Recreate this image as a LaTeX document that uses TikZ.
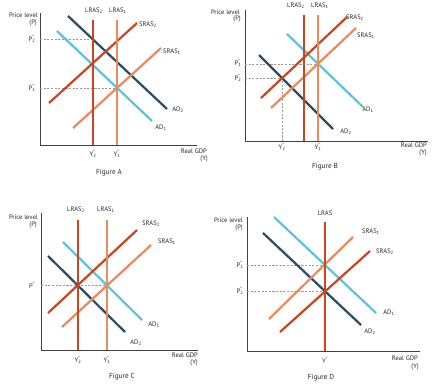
\documentclass[tikz,border=0pt]{standalone}
\usepackage{fontspec}
\setmainfont{PT Sans}

\definecolor{addark}{HTML}{2D4C61}
\definecolor{adlight}{HTML}{5EC3DA}
\definecolor{asdark}{HTML}{C9471F}
\definecolor{aslight}{HTML}{EB8A5C}

\newcommand{\starsub}[1]{\rlap{\textsuperscript{*}}\textsubscript{#1}}

\tikzset{
	axis/.style={draw=black!75, line width=0.7pt},
	guide/.style={draw=black!40, line width=0.5pt, dash pattern={on 1.8pt off 1.3pt}},
	curve/.style={line width=1.9pt},
	lbl/.style={inner sep=0pt, text=black!85, font=\fontsize{5.6}{6}\selectfont},
	figlbl/.style={inner sep=0pt, text=black!85, font=\fontsize{6.2}{7}\selectfont},
}

\begin{document}
\begin{tikzpicture}[x=0.03cm, y=-0.03cm]
	\useasboundingbox (0,0) rectangle (432,389);
	% Figure A
	\coordinate (Ay) at (40,13); \coordinate (Ao) at (40,145); \coordinate (Ax) at (197,145);
	\draw[axis] (Ay) -- (Ao) -- (Ax);
	\node[lbl, anchor=east] (Aplev) at (38,15) {Price level};
	\node[lbl, anchor=east] (Apsym) at (37,23) {(P)};
	\node[lbl] (AP2) at (32,39) {P\starsub{2}};
	\node[lbl] (AP1) at (32,88) {P\starsub{1}};
	\coordinate (Ag2a) at (40,39); \coordinate (Ag2b) at (93,39);
	\coordinate (Ag1a) at (40,88); \coordinate (Ag1b) at (117,88);
	\draw[guide] (Ag2a) -- (Ag2b);
	\draw[guide] (Ag1a) -- (Ag1b);
	\coordinate (Ad1a) at (57,31); \coordinate (Ad1b) at (152,121);
	\coordinate (Ad2a) at (68,16); \coordinate (Ad2b) at (167,109);
	\coordinate (As1a) at (73,128); \coordinate (As1b) at (161,48);
	\coordinate (As2a) at (49,103); \coordinate (As2b) at (137,23);
	\coordinate (Al1a) at (117,20); \coordinate (Al1b) at (117,145);
	\coordinate (Al2a) at (93,20); \coordinate (Al2b) at (93,145);
	\draw[curve, adlight] (Ad1a) -- (Ad1b);
	\draw[curve, addark] (Ad2a) -- (Ad2b);
	\draw[curve, aslight] (As1a) -- (As1b);
	\draw[curve, asdark] (As2a) -- (As2b);
	\draw[curve, aslight] (Al1a) -- (Al1b);
	\draw[curve, asdark] (Al2a) -- (Al2b);
	\node[lbl] (ALl2) at (94,11) {LRAS\textsubscript{2}};
	\node[lbl] (ALl1) at (118,11) {LRAS\textsubscript{1}};
	\node[lbl] (ASl2) at (148,25) {SRAS\textsubscript{2}};
	\node[lbl] (ASl1) at (172,52) {SRAS\textsubscript{1}};
	\node[lbl] (AAl2) at (178,110) {AD\textsubscript{2}};
	\node[lbl] (AAl1) at (161,128) {AD\textsubscript{1}};
	\node[lbl] (AY2) at (93,154) {Y\starsub{2}};
	\node[lbl] (AY1) at (117,154) {Y\starsub{1}};
	\node[lbl, anchor=east] (Agdp) at (207,151) {Real GDP};
	\node[lbl, anchor=east] (Aysym) at (208,159) {(Y)};
	\node[figlbl] (Afig) at (109,173) {Figure A};

	% Figure B
	\coordinate (By) at (245,10); \coordinate (Bo) at (245,141); \coordinate (Bx) at (428,141);
	\draw[axis] (By) -- (Bo) -- (Bx);
	\node[lbl, anchor=east] (Bplev) at (240,12) {Price level};
	\node[lbl, anchor=east] (Bpsym) at (241,19) {(P)};
	\node[lbl] (BP1) at (238,63) {P\starsub{1}};
	\node[lbl] (BP2) at (238,78) {P\starsub{2}};
	\coordinate (Bg1a) at (245,64); \coordinate (Bg1b) at (318,64);
	\coordinate (Bg2a) at (245,78); \coordinate (Bg2b) at (282,78); \coordinate (Bg2c) at (282,141);
	\draw[guide] (Bg1a) -- (Bg1b);
	\draw[guide] (Bg2a) -- (Bg2b) -- (Bg2c);
	\coordinate (Bd1a) at (287,34); \coordinate (Bd1b) at (363,107);
	\coordinate (Bd2a) at (259,55); \coordinate (Bd2b) at (333,129);
	\coordinate (Bs1a) at (271,108); \coordinate (Bs1b) at (356,28);
	\coordinate (Bs2a) at (261,98); \coordinate (Bs2b) at (347,17);
	\coordinate (Bl1a) at (318,15); \coordinate (Bl1b) at (318,141);
	\coordinate (Bl2a) at (304,15); \coordinate (Bl2b) at (304,141);
	\draw[curve, adlight] (Bd1a) -- (Bd1b);
	\draw[curve, addark] (Bd2a) -- (Bd2b);
	\draw[curve, aslight] (Bs1a) -- (Bs1b);
	\draw[curve, asdark] (Bs2a) -- (Bs2b);
	\draw[curve, aslight] (Bl1a) -- (Bl1b);
	\draw[curve, asdark] (Bl2a) -- (Bl2b);
	\node[lbl] (BLl2) at (296,6) {LRAS\textsubscript{2}};
	\node[lbl] (BLl1) at (320,6) {LRAS\textsubscript{1}};
	\node[lbl] (BSl2) at (355,18) {SRAS\textsubscript{2}};
	\node[lbl] (BSl1) at (366,36) {SRAS\textsubscript{1}};
	\node[lbl] (BAl1) at (368,110) {AD\textsubscript{1}};
	\node[lbl] (BAl2) at (346,132) {AD\textsubscript{2}};
	\node[lbl] (BY2) at (282,147) {Y\starsub{2}};
	\node[lbl] (BY1) at (318,147) {Y\starsub{1}};
	\node[lbl, anchor=east] (Bgdp) at (427,145) {Real GDP};
	\node[lbl, anchor=east] (Bysym) at (427,153) {(Y)};
	\node[figlbl] (Bfig) at (325,167) {Figure B};

	% Figure C
	\coordinate (Cy) at (41,213); \coordinate (Co) at (41,350); \coordinate (Cx) at (198,350);
	\draw[axis] (Cy) -- (Co) -- (Cx);
	\node[lbl, anchor=east] (Cplev) at (38,217) {Price level};
	\node[lbl, anchor=east] (Cpsym) at (37,225) {(P)};
	\node[lbl] (CP) at (32,285) {P\textsuperscript{*}};
	\coordinate (Cga) at (41,285); \coordinate (Cgb) at (107,285);
	\draw[guide] (Cga) -- (Cgb);
	\coordinate (Cd1a) at (63,242); \coordinate (Cd1b) at (142,320);
	\coordinate (Cd2a) at (48,256); \coordinate (Cd2b) at (125,332);
	\coordinate (Cs1a) at (62,327); \coordinate (Cs1b) at (151,245);
	\coordinate (Cs2a) at (48,313); \coordinate (Cs2b) at (137,230);
	\coordinate (Cl1a) at (107,220); \coordinate (Cl1b) at (107,350);
	\coordinate (Cl2a) at (78,220); \coordinate (Cl2b) at (78,350);
	\draw[curve, adlight] (Cd1a) -- (Cd1b);
	\draw[curve, addark] (Cd2a) -- (Cd2b);
	\draw[curve, aslight] (Cs1a) -- (Cs1b);
	\draw[curve, asdark] (Cs2a) -- (Cs2b);
	\draw[curve, aslight] (Cl1a) -- (Cl1b);
	\draw[curve, asdark] (Cl2a) -- (Cl2b);
	\node[lbl] (CLl2) at (76,210) {LRAS\textsubscript{2}};
	\node[lbl] (CLl1) at (106,210) {LRAS\textsubscript{1}};
	\node[lbl] (CSl2) at (151,224) {SRAS\textsubscript{2}};
	\node[lbl] (CSl1) at (167,242) {SRAS\textsubscript{1}};
	\node[lbl] (CAl1) at (154,325) {AD\textsubscript{1}};
	\node[lbl] (CAl2) at (136,343) {AD\textsubscript{2}};
	\node[lbl] (CY2) at (78,360) {Y\starsub{2}};
	\node[lbl] (CY1) at (107,360) {Y\starsub{1}};
	\node[lbl, anchor=east] (Cgdp) at (198,355) {Real GDP};
	\node[lbl, anchor=east] (Cysym) at (198,363) {(Y)};
	\node[figlbl] (Cfig) at (122,377) {Figure C};

	% Figure D
	\coordinate (Dy) at (247,217); \coordinate (Do) at (247,351); \coordinate (Dx) at (420,351);
	\draw[axis] (Dy) -- (Do) -- (Dx);
	\node[lbl, anchor=east] (Dplev) at (243,220) {Price level};
	\node[lbl, anchor=east] (Dpsym) at (243,228) {(P)};
	\node[lbl] (DP1) at (240,265) {P\starsub{1}};
	\node[lbl] (DP2) at (240,291) {P\starsub{2}};
	\coordinate (Dg1a) at (247,265); \coordinate (Dg1b) at (325,265);
	\coordinate (Dg2a) at (247,291); \coordinate (Dg2b) at (325,291);
	\draw[guide] (Dg1a) -- (Dg1b);
	\draw[guide] (Dg2a) -- (Dg2b);
	\coordinate (Dd1a) at (274,217); \coordinate (Dd1b) at (376,313);
	\coordinate (Dd2a) at (263,233); \coordinate (Dd2b) at (361,325);
	\coordinate (Ds1a) at (269,319); \coordinate (Ds1b) at (353,237);
	\coordinate (Ds2a) at (280,332); \coordinate (Ds2b) at (370,251);
	\coordinate (Dla) at (325,222); \coordinate (Dlb) at (325,351);
	\draw[curve, adlight] (Dd1a) -- (Dd1b);
	\draw[curve, addark] (Dd2a) -- (Dd2b);
	\draw[curve, aslight] (Ds1a) -- (Ds1b);
	\draw[curve, asdark] (Ds2a) -- (Ds2b);
	\draw[curve, asdark] (Dla) -- (Dlb);
	\node[lbl] (DLl) at (325,213) {LRAS};
	\node[lbl] (DSl1) at (371,232) {SRAS\textsubscript{1}};
	\node[lbl] (DSl2) at (385,252) {SRAS\textsubscript{2}};
	\node[lbl] (DAl1) at (389,313) {AD\textsubscript{1}};
	\node[lbl] (DAl2) at (370,332) {AD\textsubscript{2}};
	\node[lbl] (DY) at (325,360) {Y\textsuperscript{*}};
	\node[lbl, anchor=east] (Dgdp) at (418,358) {Real GDP};
	\node[lbl, anchor=east] (Dysym) at (419,367) {(Y)};
	\node[figlbl] (Dfig) at (321,378) {Figure D};
\end{tikzpicture}
\end{document}
